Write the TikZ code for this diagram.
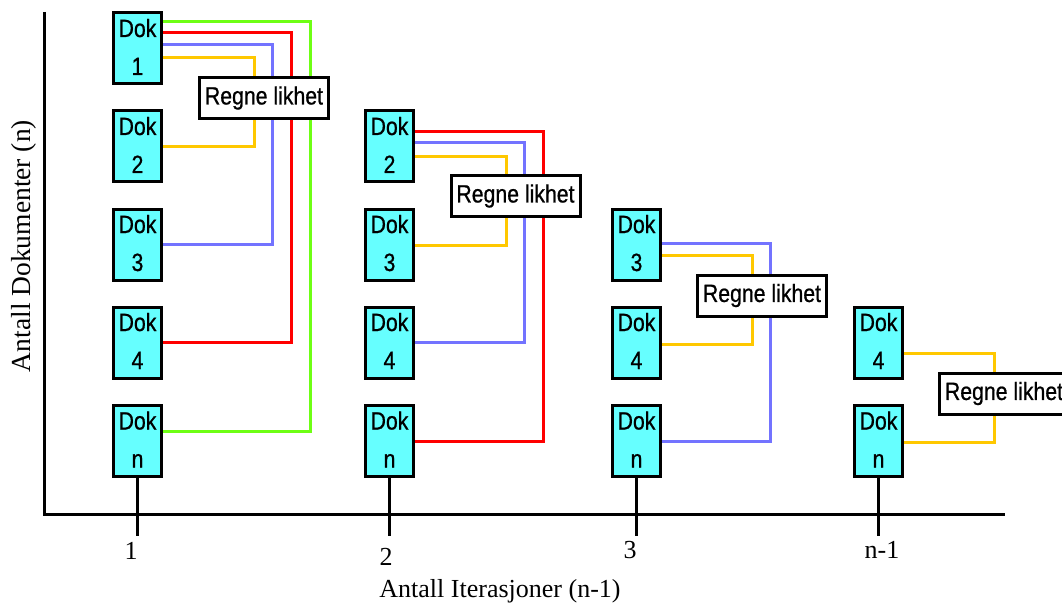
\documentclass[tikz,border=0pt]{standalone}
\usepackage{fontspec}
\setmainfont{Liberation Serif}
\newfontfamily\boxfont[FakeStretch=0.85,FakeBold=0.7]{Liberation Sans}
\usetikzlibrary{calc,backgrounds}

\definecolor{dokfill}{RGB}{102,255,255}
\definecolor{lgreen}{RGB}{110,255,20}
\definecolor{lred}{RGB}{255,0,0}
\definecolor{lblue}{RGB}{115,115,255}
\definecolor{lyellow}{RGB}{255,200,0}

\tikzset{
  dokbox/.style={draw=black, line width=3pt, fill=dokfill, minimum width=48pt,
    minimum height=71pt, inner sep=0pt},
  doktext/.style={anchor=base, inner sep=0pt, font=\boxfont\fontsize{25}{29}\selectfont},
  regne/.style={draw=black, line width=3pt, fill=white, minimum width=129pt,
    minimum height=41pt, inner sep=0pt, font=\boxfont\fontsize{25}{29}\selectfont},
  wire/.style={line width=3pt},
  axis/.style={line width=3pt, black},
  axlabel/.style={inner sep=0pt, font=\fontsize{26}{30}\selectfont},
}

% document box: name, x, y (centre), number shown under "Dok"
\newcommand\dokdoc[4]{%
  \node[dokbox] (#1) at (#2,#3) {};
  \node[doktext] (#1t) at ($(#1.center)+(0,-11.5)$) {Dok};
  \node[doktext] (#1n) at ($(#1.center)+(0,26.5)$) {#4};
}

\begin{document}
\begin{tikzpicture}[x=1pt,y=-1pt]
\useasboundingbox (0,0) rectangle (1062,604);

% axes
\draw[axis] (44,12) -- (44,514) -- (1005,514);

% column 1
\dokdoc{a1}{137.5}{48.5}{1}
\dokdoc{a2}{137.5}{146.5}{2}
\dokdoc{a3}{137.5}{244.5}{3}
\dokdoc{a4}{137.5}{342.5}{4}
\dokdoc{an}{137.5}{441}{n}
\node[regne] (r1) at (264,98) {Regne likhet};

% column 2
\dokdoc{b2}{389.5}{146.5}{2}
\dokdoc{b3}{389.5}{244.5}{3}
\dokdoc{b4}{389.5}{342.5}{4}
\dokdoc{bn}{389.5}{441}{n}
\node[regne] (r2) at (515.5,196) {Regne likhet};

% column 3
\dokdoc{c3}{636.5}{244.5}{3}
\dokdoc{c4}{636.5}{342.5}{4}
\dokdoc{cn}{636.5}{441}{n}
\node[regne] (r3) at (762,295.5) {Regne likhet};

% column 4
\dokdoc{d4}{878.5}{342.5}{4}
\dokdoc{dn}{878.5}{441}{n}
\node[regne] (r4) at (1004,393.5) {Regne likhet};

% comparison wires, drawn behind the boxes
\begin{scope}[on background layer]
  % iteration 1
  \draw[wire, lgreen]  ($(a1.east)+(0,-26.5)$) -| ($(r1.center)+(46.5,0)$) |- ($(an.east)+(0,-10)$);
  \draw[wire, lred]    ($(a1.east)+(0,-15.5)$) -| ($(r1.center)+(27.5,0)$) |- (a4.east);
  \draw[wire, lblue]   ($(a1.east)+(0,-3.5)$)  -| ($(r1.center)+(8.5,0)$)  |- (a3.east);
  \draw[wire, lyellow] ($(a1.east)+(0,9.5)$)   -| ($(r1.center)+(-9.5,0)$) |- ($(a2.east)+(0,0.5)$);
  % iteration 2
  \draw[wire, lred]    ($(b2.east)+(0,-14.5)$) -| ($(r2.center)+(27.5,0)$) |- (bn.east);
  \draw[wire, lblue]   ($(b2.east)+(0,-3.5)$)  -| ($(r2.center)+(8.5,0)$)  |- (b4.east);
  \draw[wire, lyellow] ($(b2.east)+(0,10.5)$)  -| ($(r2.center)+(-9.5,0)$) |- ($(b3.east)+(0,0.5)$);
  % iteration 3
  \draw[wire, lblue]   ($(c3.east)+(0,-1.5)$)  -| ($(r3.center)+(8.5,0)$)  |- (cn.east);
  \draw[wire, lyellow] ($(c3.east)+(0,10.5)$)  -| ($(r3.center)+(-9.5,0)$) |- ($(c4.east)+(0,1.5)$);
  % iteration n-1
  \draw[wire, lyellow] ($(d4.east)+(0,10.5)$)  -| ($(r4.center)+(-9.5,0)$) |- ($(dn.east)+(0,1.5)$);
\end{scope}

% ticks below the last document of each iteration
\foreach \c in {a,b,c,d}{
  \draw[axis] (\c n.south) -- ++(0,57.5) coordinate (\c tick);
}

% axis labels
\node[axlabel] (t1) at (131,551) {1};
\node[axlabel] (t2) at (386,557) {2};
\node[axlabel] (t3) at (630,550) {3};
\node[axlabel] (t4) at (882,550) {n-1};
\node[axlabel] (xl) at (500,591) {Antall Iterasjoner (n-1)};
\node[axlabel, font=\fontsize{27.5}{31}\selectfont, rotate=90] (yl) at (24,246) {Antall Dokumenter (n)};
\end{tikzpicture}
\end{document}
